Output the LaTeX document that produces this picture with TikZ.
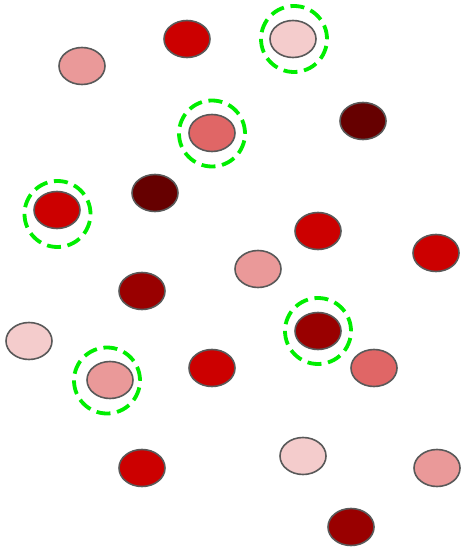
\documentclass[tikz,border=0pt]{standalone}
\usetikzlibrary{shapes.geometric}
\definecolor{rA}{HTML}{F4CCCC}
\definecolor{rB}{HTML}{EA9999}
\definecolor{rC}{HTML}{E06666}
\definecolor{rD}{HTML}{CC0000}
\definecolor{rE}{HTML}{990000}
\definecolor{rF}{HTML}{660000}
\definecolor{selgreen}{HTML}{00EE00}
\definecolor{rim}{HTML}{595959}
\tikzset{
  dot/.style={ellipse, draw=rim, line width=1.6pt, minimum width=46pt, minimum height=37pt, inner sep=0pt},
  pick/.style={circle, draw=selgreen, line width=3.8pt, dash pattern=on 14pt off 6.7pt, minimum size=66pt, inner sep=0pt}
}
\begin{document}
\begin{tikzpicture}[x=1pt,y=-1pt]
\useasboundingbox (0,0) rectangle (463,553);

% the dots
\node[dot, fill=rB] (d1) at (82,66) {};
\node[dot, fill=rD] (d2) at (187,39) {};
\node[dot, fill=rA] (d3) at (293,39) {};
\node[dot, fill=rC] (d4) at (212,133) {};
\node[dot, fill=rF] (d5) at (363,121) {};
\node[dot, fill=rF] (d6) at (155,193) {};
\node[dot, fill=rD] (d7) at (57,210) {};
\node[dot, fill=rD] (d8) at (318,231) {};
\node[dot, fill=rD] (d9) at (436,253) {};
\node[dot, fill=rB] (d10) at (258,269) {};
\node[dot, fill=rE] (d11) at (142,291) {};
\node[dot, fill=rA] (d12) at (29,341) {};
\node[dot, fill=rE] (d13) at (318,331) {};
\node[dot, fill=rC] (d14) at (374,368) {};
\node[dot, fill=rD] (d15) at (212,368) {};
\node[dot, fill=rB] (d16) at (110,380) {};
\node[dot, fill=rD] (d17) at (142,468) {};
\node[dot, fill=rA] (d18) at (303,456) {};
\node[dot, fill=rB] (d19) at (437,468) {};
\node[dot, fill=rE] (d20) at (351,527) {};

% selected ones (rings sit a little off their dots)
\node[pick] (p3) at ([shift={(1,0)}]d3) {};
\node[pick] (p4) at ([shift={(0,0.5)}]d4) {};
\node[pick] (p7) at ([shift={(0.5,4)}]d7) {};
\node[pick] (p13) at (d13) {};
\node[pick] (p16) at ([shift={(-3,0.5)}]d16) {};
\end{tikzpicture}
\end{document}
